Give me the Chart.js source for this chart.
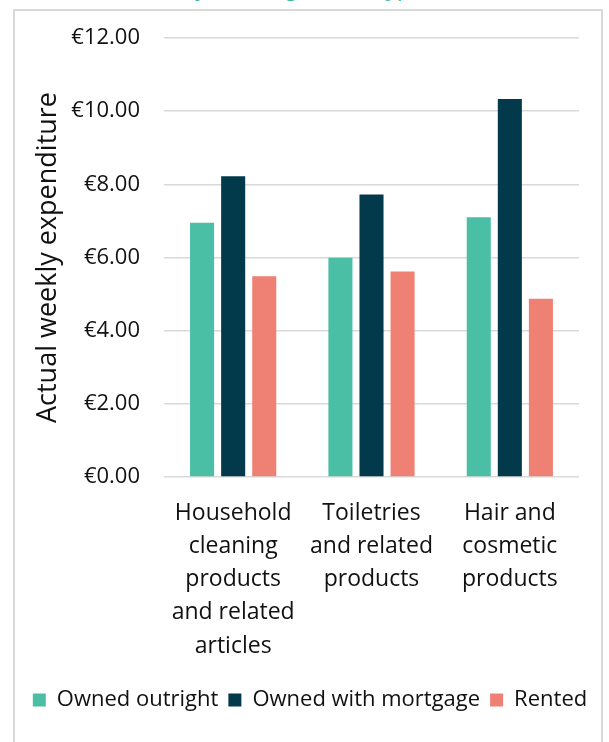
<!DOCTYPE html>
<html>
<head>
<meta charset="utf-8">
<script src="https://cdn.jsdelivr.net/npm/chart.js@4.4.1/dist/chart.umd.min.js"></script>
<style>
    html, body { margin: 0; padding: 0; background: #fff; overflow: hidden; }
    body { width: 609px; height: 742px; position: relative; }
    #heading {
        position: absolute; left: 0; top: -26px; width: 609px;
        text-align: center; font: italic 24px 'Open Sans', sans-serif;
        line-height: 24px; color: #3cb89a; white-space: nowrap;
    }
    #frame {
        position: absolute; left: 13px; top: 9px; width: 590px; height: 760px;
        border: 2px solid #d9d9d9; box-sizing: border-box;
    }
    #wrap { position: absolute; left: 15px; top: 11px; width: 590px; height: 731px; }
</style>
</head>
<body>
<div id="heading">by housing tenure type</div>
<div id="frame"></div>
<div id="wrap"><canvas id="chart"></canvas></div>
<script>
const categories = [
    ['Household', 'cleaning', 'products', 'and related', 'articles'],
    ['Toiletries', 'and related', 'products'],
    ['Hair and', 'cosmetic', 'products']
];
const ownedOutright = [6.95, 5.99, 7.10];
const ownedMortgage = [8.22, 7.72, 10.33];
const rented = [5.49, 5.62, 4.87];
const yTicks = [0, 2, 4, 6, 8, 10, 12];

const FONT = "'Open Sans', sans-serif";

new Chart(document.getElementById('chart'), {
    type: 'bar',
    data: {
        labels: categories,
        datasets: [
            { label: 'Owned outright', data: ownedOutright, backgroundColor: '#4abfa5' },
            { label: 'Owned with mortgage', data: ownedMortgage, backgroundColor: '#02394b' },
            { label: 'Rented', data: rented, backgroundColor: '#ef8174' }
        ]
    },
    options: {
        responsive: true,
        maintainAspectRatio: false,
        animation: false,
        categoryPercentage: 0.674,
        barPercentage: 0.774,
        layout: { padding: { top: 0, right: 0, bottom: 21, left: 0 } },
        scales: {
            x: {
                grid: { display: false },
                border: { display: false },
                ticks: {
                    color: '#111',
                    padding: 12,
                    maxRotation: 0,
                    autoSkip: false,
                    font: { family: FONT, size: 23, lineHeight: 1.44 }
                },
                afterFit: (scale) => { scale.height = 202; }
            },
            y: {
                min: 0,
                max: 12,
                afterBuildTicks: (scale) => { scale.ticks = yTicks.map(v => ({ value: v })); },
                grid: { color: '#d9d9d9', lineWidth: 1.5, drawTicks: false },
                border: { display: false },
                ticks: {
                    color: '#111',
                    padding: 24,
                    font: { family: FONT, size: 22 },
                    callback: (v) => '€' + v.toFixed(2)
                },
                title: {
                    display: true,
                    text: 'Actual weekly expenditure',
                    color: '#111',
                    padding: { top: 17, bottom: 0 },
                    font: { family: FONT, size: 27 }
                },
                afterFit: (scale) => {
                    scale.width = 149;
                    scale.paddingTop = 27;
                    scale.paddingBottom = 0;
                }
            },
            // empty strip on the right so the plot stops short of the frame
            gutter: {
                type: 'linear',
                position: 'right',
                grid: { display: false, drawTicks: false },
                border: { display: false },
                ticks: { display: false },
                afterFit: (scale) => { scale.width = 26; }
            }
        },
        plugins: {
            legend: {
                position: 'bottom',
                labels: {
                    color: '#111',
                    boxWidth: 13,
                    boxHeight: 13,
                    padding: 10,
                    font: { family: FONT, size: 22 }
                }
            },
            tooltip: { enabled: false }
        }
    }
});
</script>
</body>
</html>
